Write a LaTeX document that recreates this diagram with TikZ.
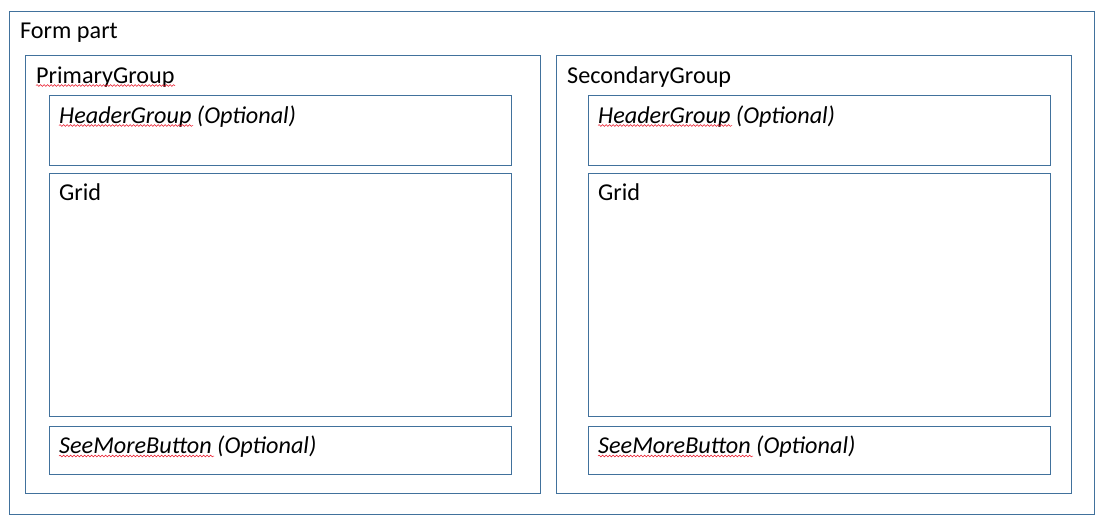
\documentclass[tikz,border=0pt]{standalone}
\usepackage{fontspec}
\setmainfont{Carlito}
\usetikzlibrary{decorations.pathmorphing}
\definecolor{formBorder}{HTML}{41719C}
\definecolor{spellRed}{HTML}{E81123}
\tikzset{
    box/.style={
        draw=formBorder,
        line width=0.9pt
    },
    txt/.style={
        anchor=base west,
        inner sep=0pt,
        font=\fontsize{24.2}{29}\selectfont
    },
    squiggle/.style={
        draw=spellRed,
        line width=0.5pt,
        decorate,
        decoration={snake, amplitude=0.9pt, segment length=3.5pt}
    }
}

\begin{document}
\begin{tikzpicture}[x=1pt,y=-1pt]
    \useasboundingbox (0,0) rectangle (1106,528);

    % Form part
    \draw[box] (9,11) rectangle (1094,514);
    \node[txt] (form) at (20,38) {Form part};

    % Groups
    \foreach \gx/\ix/\grp/\id in {25/49/PrimaryGroup/p, 556/588/SecondaryGroup/s} {
        \draw[box] (\gx,55) rectangle ++(515,438);
        \node[txt] (grp-\id) at (\gx+11,83) {\grp};
        % HeaderGroup
        \draw[box] (\ix,95) rectangle ++(462,70);
        \node[txt] (hdr-\id) at (\ix+10,123) {\textit{HeaderGroup} \textit{(Optional)}};
        % Grid
        \draw[box] (\ix,173) rectangle ++(462,243);
        \node[txt] (grid-\id) at (\ix+10,200) {Grid};
        % SeeMoreButton
        \draw[box] (\ix,426) rectangle ++(462,48);
        \node[txt] (more-\id) at (\ix+10,453) {\textit{SeeMoreButton} \textit{(Optional)}};
    }

    % Spelling marks
    \draw[squiggle] ([yshift=-2.5pt]grp-p.base west) -- ++(139,0);
    \draw[squiggle] ([yshift=-2.5pt]hdr-p.base west) -- ++(134,0);
    \draw[squiggle] ([yshift=-2.5pt]hdr-s.base west) -- ++(134,0);
    \draw[squiggle] ([yshift=-3pt]more-p.base west) -- ++(155,0);
    \draw[squiggle] ([yshift=-3pt]more-s.base west) -- ++(155,0);
\end{tikzpicture}
\end{document}
